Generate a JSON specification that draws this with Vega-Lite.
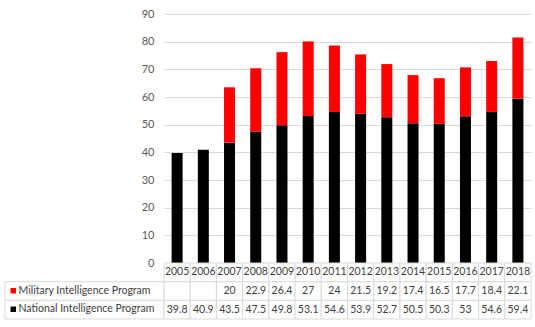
{
  "$schema": "https://vega.github.io/schema/vega-lite/v6.json",
  "background": "white",
  "padding": {"left": 4, "top": 8, "right": 4, "bottom": 8},
  "spacing": 0,
  "bounds": "flush",
  "columns": 2,
  "config": {
    "view": {"stroke": null},
    "font": "Lato",
    "text": {"font": "Lato", "fontSize": 10.5, "color": "#404040"}
  },
  "datasets": {
    "budget": [
      {"year": "2005", "series": "National Intelligence Program", "value": 39.8},
      {"year": "2006", "series": "National Intelligence Program", "value": 40.9},
      {"year": "2007", "series": "National Intelligence Program", "value": 43.5},
      {"year": "2008", "series": "National Intelligence Program", "value": 47.5},
      {"year": "2009", "series": "National Intelligence Program", "value": 49.8},
      {"year": "2010", "series": "National Intelligence Program", "value": 53.1},
      {"year": "2011", "series": "National Intelligence Program", "value": 54.6},
      {"year": "2012", "series": "National Intelligence Program", "value": 53.9},
      {"year": "2013", "series": "National Intelligence Program", "value": 52.7},
      {"year": "2014", "series": "National Intelligence Program", "value": 50.5},
      {"year": "2015", "series": "National Intelligence Program", "value": 50.3},
      {"year": "2016", "series": "National Intelligence Program", "value": 53},
      {"year": "2017", "series": "National Intelligence Program", "value": 54.6},
      {"year": "2018", "series": "National Intelligence Program", "value": 59.4},
      {"year": "2005", "series": "Military Intelligence Program", "value": null},
      {"year": "2006", "series": "Military Intelligence Program", "value": null},
      {"year": "2007", "series": "Military Intelligence Program", "value": 20},
      {"year": "2008", "series": "Military Intelligence Program", "value": 22.9},
      {"year": "2009", "series": "Military Intelligence Program", "value": 26.4},
      {"year": "2010", "series": "Military Intelligence Program", "value": 27},
      {"year": "2011", "series": "Military Intelligence Program", "value": 24},
      {"year": "2012", "series": "Military Intelligence Program", "value": 21.5},
      {"year": "2013", "series": "Military Intelligence Program", "value": 19.2},
      {"year": "2014", "series": "Military Intelligence Program", "value": 17.4},
      {"year": "2015", "series": "Military Intelligence Program", "value": 16.5},
      {"year": "2016", "series": "Military Intelligence Program", "value": 17.7},
      {"year": "2017", "series": "Military Intelligence Program", "value": 18.4},
      {"year": "2018", "series": "Military Intelligence Program", "value": 22.1}
    ],
    "rows": [
      {"series": "Military Intelligence Program"},
      {"series": "National Intelligence Program"}
    ]
  },
  "concat": [
    {
      "width": 159,
      "height": 249,
      "data": {"values": [{}]},
      "mark": {"type": "text"},
      "encoding": {"text": {"value": ""}}
    },
    {
      "width": 367,
      "height": 249,
      "data": {"name": "budget"},
      "transform": [{"filter": "datum.value != null"}],
      "mark": {"type": "bar"},
      "encoding": {
        "x": {
          "field": "year",
          "type": "ordinal",
          "axis": null,
          "scale": {"paddingInner": 0.58, "paddingOuter": 0.29}
        },
        "y": {
          "field": "value",
          "type": "quantitative",
          "stack": "zero",
          "scale": {"domain": [0, 90], "nice": false},
          "axis": {
            "values": [0, 10, 20, 30, 40, 50, 60, 70, 80, 90],
            "title": null,
            "domain": false,
            "ticks": false,
            "grid": true,
            "gridColor": "#d9d9d9",
            "labelColor": "#595959",
            "labelFont": "Lato",
            "labelFontSize": 11,
            "labelPadding": 10
          }
        },
        "color": {
          "field": "series",
          "type": "nominal",
          "scale": {
            "domain": ["Military Intelligence Program", "National Intelligence Program"],
            "range": ["#ff0000", "#000000"]
          },
          "legend": {
            "orient": "none",
            "legendX": 3,
            "legendY": 271.5,
            "title": null,
            "padding": 0,
            "symbolType": "square",
            "symbolSize": 30,
            "symbolStrokeWidth": 0,
            "labelFont": "Lato",
            "labelFontSize": 10.5,
            "labelColor": "#404040",
            "labelOffset": 0,
            "rowPadding": 7.5,
            "labelLimit": 200
          }
        },
        "order": {"field": "series", "sort": "descending"}
      }
    },
    {
      "width": 159,
      "height": 56,
      "data": {"name": "rows"},
      "mark": {"type": "rect", "fill": "white", "stroke": "#d9d9d9", "strokeWidth": 1},
      "encoding": {
        "y": {
          "field": "series",
          "type": "nominal",
          "axis": null,
          "scale": {
            "domain": ["Year", "Military Intelligence Program", "National Intelligence Program"],
            "paddingInner": 0,
            "paddingOuter": 0
          }
        }
      }
    },
    {
      "width": 367,
      "height": 56,
      "data": {"name": "budget"},
      "encoding": {
        "x": {
          "field": "year",
          "type": "ordinal",
          "axis": null,
          "scale": {"paddingInner": 0, "paddingOuter": 0}
        }
      },
      "layer": [
        {
          "mark": {"type": "rect", "fill": "white", "stroke": "#d9d9d9", "strokeWidth": 1},
          "encoding": {
            "y": {
              "field": "series",
              "type": "nominal",
              "axis": null,
              "scale": {
                "domain": ["Year", "Military Intelligence Program", "National Intelligence Program"],
                "paddingInner": 0,
                "paddingOuter": 0
              }
            }
          }
        },
        {
          "transform": [{"filter": "datum.series == 'National Intelligence Program'"}],
          "mark": {"type": "rect", "fill": "white", "stroke": "#d9d9d9", "strokeWidth": 1},
          "encoding": {
            "y": {"datum": "Year", "type": "nominal"}
          }
        },
        {
          "transform": [{"filter": "datum.series == 'National Intelligence Program'"}],
          "mark": {"type": "text", "baseline": "middle", "align": "center"},
          "encoding": {
            "y": {"datum": "Year", "type": "nominal"},
            "text": {"field": "year", "type": "nominal"}
          }
        },
        {
          "transform": [{"filter": "datum.value != null"}],
          "mark": {"type": "text", "baseline": "middle", "align": "center"},
          "encoding": {
            "y": {"field": "series", "type": "nominal"},
            "text": {"field": "value", "type": "nominal"}
          }
        }
      ]
    }
  ]
}
